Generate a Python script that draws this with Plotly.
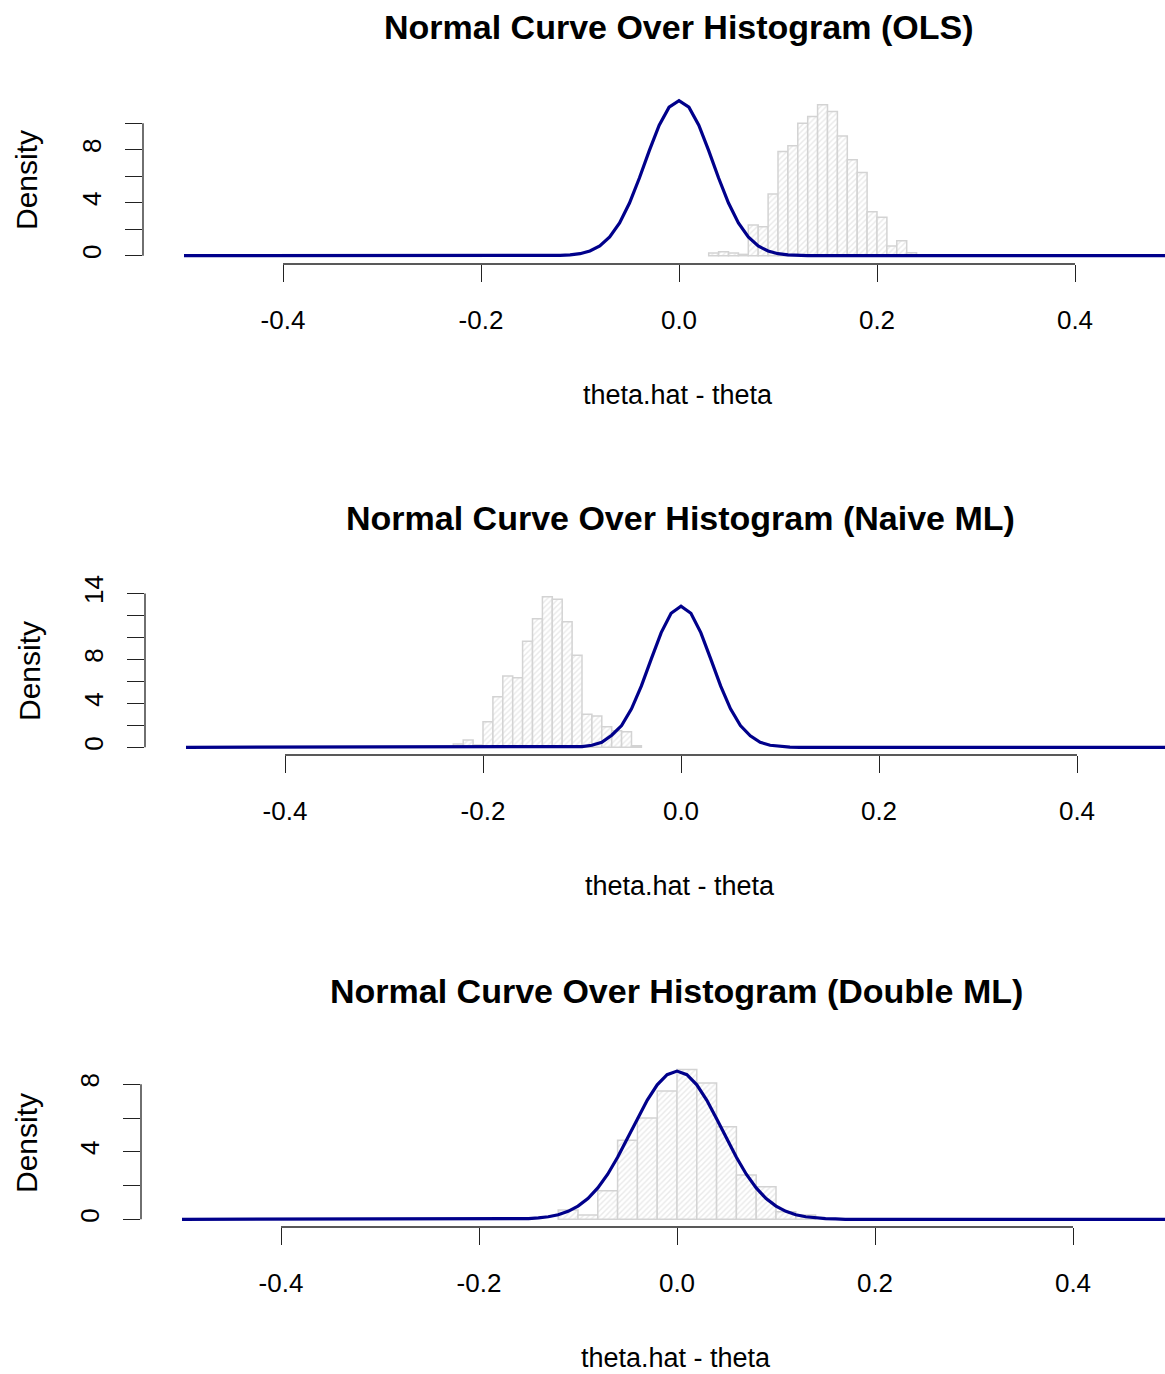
import plotly.graph_objects as go

# ---------------- data ----------------
titles = ["Normal Curve Over Histogram (OLS)",
          "Normal Curve Over Histogram (Naive ML)",
          "Normal Curve Over Histogram (Double ML)"]
x_label = "theta.hat - theta"
y_label = "Density"

# histogram bins (left edges) and densities
ols_bin_left = [0.03, 0.04, 0.05, 0.06, 0.07, 0.08, 0.09, 0.10, 0.11, 0.12, 0.13,
                0.14, 0.15, 0.16, 0.17, 0.18, 0.19, 0.20, 0.21, 0.22, 0.23]
ols_bin_width = 0.01
ols_density = [0.2, 0.3, 0.2, 0.1, 2.32, 2.19, 4.66, 7.86, 8.29, 10.0, 10.5,
               11.38, 10.88, 9.04, 7.23, 6.27, 3.32, 2.9, 0.73, 1.13, 0.23]

naive_bin_left = [-0.23, -0.22, -0.21, -0.20, -0.19, -0.18, -0.17, -0.16, -0.15, -0.14,
                  -0.13, -0.12, -0.11, -0.10, -0.09, -0.08, -0.07, -0.06, -0.05]
naive_bin_width = 0.01
naive_density = [0.3, 0.66, 0.2, 2.33, 4.6, 6.48, 6.33, 9.66, 11.7, 13.7,
                 13.48, 11.42, 8.39, 3.0, 2.85, 1.88, 1.5, 1.42, 0.15]

dml_bin_left = [-0.12, -0.10, -0.08, -0.06, -0.04, -0.02, 0.00, 0.02, 0.04, 0.06,
                0.08, 0.10, 0.12]
dml_bin_width = 0.02
dml_density = [0.55, 0.25, 1.69, 4.69, 6.0, 7.6, 8.88, 8.08, 5.48, 2.62,
               1.93, 0.45, 0.25]

# normal curves
ols_curve_x = [-0.5, -0.13, -0.12, -0.11, -0.10, -0.09, -0.08, -0.07, -0.06, -0.05, -0.04,
               -0.03, -0.02, -0.01, 0.00, 0.01, 0.02, 0.03, 0.04, 0.05, 0.06, 0.07,
               0.08, 0.09, 0.10, 0.11, 0.12, 0.13, 0.5]
ols_curve_y = [0.0, 0.0, 0.02, 0.06, 0.15, 0.35, 0.73, 1.41, 2.47, 3.97, 5.86,
               7.93, 9.84, 11.21, 11.70, 11.21, 9.84, 7.93, 5.86, 3.97, 2.47, 1.41,
               0.73, 0.35, 0.15, 0.06, 0.02, 0.0, 0.0]

naive_curve_x = [-0.5, -0.12, -0.11, -0.10, -0.09, -0.08, -0.07, -0.06, -0.05, -0.04,
                 -0.03, -0.02, -0.01, 0.00, 0.01, 0.02, 0.03, 0.04, 0.05, 0.06,
                 0.07, 0.08, 0.09, 0.10, 0.11, 0.12, 0.5]
naive_curve_y = [0.0, 0.0, 0.02, 0.07, 0.19, 0.46, 1.1, 1.98, 3.50, 5.59,
                 8.05, 10.44, 12.20, 12.85, 12.20, 10.44, 8.05, 5.59, 3.50, 1.98,
                 1.05, 0.46, 0.19, 0.07, 0.02, 0.0, 0.0]

dml_curve_x = [-0.5, -0.17, -0.16, -0.15, -0.14, -0.13, -0.12, -0.11, -0.10, -0.09, -0.08,
               -0.07, -0.06, -0.05, -0.04, -0.03, -0.02, -0.01, 0.00, 0.01, 0.02,
               0.03, 0.04, 0.05, 0.06, 0.07, 0.08, 0.09, 0.10, 0.11, 0.12, 0.13,
               0.14, 0.15, 0.16, 0.17, 0.5]
dml_curve_y = [0.0, 0.0, 0.02, 0.04, 0.08, 0.15, 0.27, 0.47, 0.78, 1.23, 1.86,
               2.67, 3.67, 4.79, 5.95, 7.06, 7.97, 8.57, 8.78, 8.57, 7.97,
               7.06, 5.95, 4.79, 3.67, 2.67, 1.86, 1.23, 0.78, 0.47, 0.27, 0.15,
               0.08, 0.04, 0.02, 0.0, 0.0]

x_tickvals = [-0.4, -0.2, 0.0, 0.2, 0.4]
x_ticktext = ["-0.4", "-0.2", "0.0", "0.2", "0.4"]

y_tickvals = [[0, 2, 4, 6, 8, 10],
              [0, 2, 4, 6, 8, 10, 12, 14],
              [0, 2, 4, 6, 8]]
y_ticktext = [["0", "", "4", "", "8", ""],
              ["0", "", "4", "", "8", "", "", "14"],
              ["0", "", "4", "", "8"]]

# ---------------- layout geometry (pixels) ----------------
W, H = 1165, 1374


def py(t):
    """paper y-fraction for a target pixel row."""
    return 1 - t / H


PX_PER_UNIT = 990.0
panel_zero_px = [679, 681, 677]        # pixel of x = 0
panel_left_px = [143, 145, 141]        # left edge of plot region
panel_top_px = [94, 588, 1064]
panel_bot_px = [264, 755, 1227]
panel_yrange = [[-0.627, 12.2], [-0.7, 14.5], [-0.456, 9.2]]
title_y_px = [27, 518, 991]
xlab_y_px = [395, 886, 1358]
ylab_px = [(27, 180), (29, 671), (26, 1143)]

FONT = "Liberation Sans, Arial, sans-serif"
GRAY = "#d3d3d3"
BLUE = "#00008B"
AX = "#222222"

hist_data = [(ols_bin_left, ols_bin_width, ols_density),
             (naive_bin_left, naive_bin_width, naive_density),
             (dml_bin_left, dml_bin_width, dml_density)]
curve_data = [(ols_curve_x, ols_curve_y),
              (naive_curve_x, naive_curve_y),
              (dml_curve_x, dml_curve_y)]

fig = go.Figure()
layout = dict(width=W, height=H, margin=dict(l=0, r=0, t=0, b=0, autoexpand=False),
              paper_bgcolor="white", plot_bgcolor="white", showlegend=False,
              font=dict(family=FONT, color="black"), barmode="overlay")
annotations = []
shapes = []

for i in range(3):
    xa = "x" if i == 0 else f"x{i+1}"
    ya = "y" if i == 0 else f"y{i+1}"
    left, width, dens = hist_data[i]
    centers = [l + width / 2 for l in left]
    fig.add_trace(go.Bar(
        x=centers, y=dens, width=[width] * len(dens), xaxis=xa, yaxis=ya,
        marker=dict(color="white", line=dict(color=GRAY, width=1.5),
                    pattern=dict(shape="/", fgcolor=GRAY, bgcolor="white",
                                 size=4, solidity=0.35)),
        hoverinfo="skip"))
    cx, cy = curve_data[i]
    fig.add_trace(go.Scatter(x=cx, y=cy, mode="lines", xaxis=xa, yaxis=ya,
                             line=dict(color=BLUE, width=3.2), hoverinfo="skip"))

    zero = panel_zero_px[i]
    lpx = panel_left_px[i]
    xr = [(lpx - zero) / PX_PER_UNIT, (W - zero) / PX_PER_UNIT]
    xkey = "xaxis" if i == 0 else f"xaxis{i+1}"
    ykey = "yaxis" if i == 0 else f"yaxis{i+1}"
    layout[xkey] = dict(domain=[lpx / W, 1.0], range=xr, anchor=ya,
                        showgrid=False, zeroline=False, showline=False,
                        automargin=False,
                        tickmode="array", tickvals=x_tickvals, ticktext=x_ticktext,
                        ticks="outside", ticklen=17, tickwidth=1.3, tickcolor=AX,
                        ticklabelstandoff=16,
                        tickfont=dict(size=26, family=FONT, color="black"))
    layout[ykey] = dict(domain=[py(panel_bot_px[i]), py(panel_top_px[i])],
                        range=panel_yrange[i], anchor=xa,
                        showgrid=False, zeroline=False, showline=False,
                        automargin=False,
                        tickmode="array", tickvals=y_tickvals[i], ticktext=y_ticktext[i],
                        ticks="outside", ticklen=17, tickwidth=1.3, tickcolor=AX,
                        tickangle=-90, ticklabelstandoff=14,
                        tickfont=dict(size=26, family=FONT, color="black"))
    # R-style axis lines spanning only the tick range
    shapes.append(dict(type="line", xref=xa, yref=f"{ya} domain",
                       x0=x_tickvals[0], x1=x_tickvals[-1], y0=0, y1=0,
                       line=dict(color=AX, width=1.3)))
    shapes.append(dict(type="line", xref=f"{xa} domain", yref=ya,
                       x0=0, x1=0, y0=y_tickvals[i][0], y1=y_tickvals[i][-1],
                       line=dict(color=AX, width=1.3)))

    annotations.append(dict(text="<b>" + titles[i] + "</b>", xref="paper", yref="paper",
                            x=(zero - 1) / W, y=py(title_y_px[i]),
                            xanchor="center", yanchor="middle", showarrow=False,
                            font=dict(size=34, family=FONT, color="black")))
    annotations.append(dict(text=x_label, xref="paper", yref="paper",
                            x=(zero - 1) / W, y=py(xlab_y_px[i]),
                            xanchor="center", yanchor="middle", showarrow=False,
                            font=dict(size=27, family=FONT, color="black")))
    annotations.append(dict(text=y_label, xref="paper", yref="paper",
                            x=ylab_px[i][0] / W, y=py(ylab_px[i][1]),
                            xanchor="center", yanchor="middle", showarrow=False,
                            textangle=-90,
                            font=dict(size=30, family=FONT, color="black")))

layout["annotations"] = annotations
layout["shapes"] = shapes
fig.update_layout(**layout)
fig.write_html("out.html")
